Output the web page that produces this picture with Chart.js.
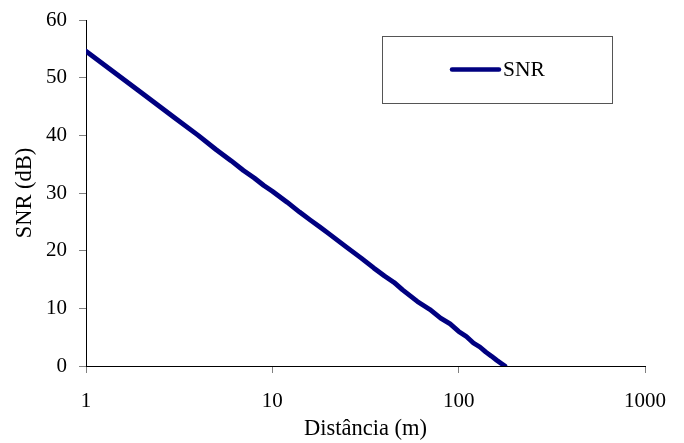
<!DOCTYPE html>
<html>
<head>
<meta charset="utf-8">
<script src="https://cdn.jsdelivr.net/npm/chart.js@4.4.1/dist/chart.umd.min.js"></script>
<style>
html,body{margin:0;padding:0;background:#fff;}
#wrap{width:684px;height:443px;position:relative;}
</style>
</head>
<body>
<div id="wrap"><canvas id="c" width="684" height="443"></canvas></div>
<script>
const distances = [1,2,3,4,5,6,7,8,9,10,12,14,16,18,20,25,30,35,40,45,50,60,70,80,90,100,110,120,130,140,150,160,170,177];
const snrValues = [54.6,47.3,43.0,40.0,37.5,35.6,33.9,32.6,31.3,30.3,28.4,26.7,25.3,24.1,23.0,20.6,18.7,17.0,15.6,14.5,13.2,11.2,9.8,8.3,7.3,6.0,5.1,4.0,3.3,2.4,1.7,1.0,0.4,0.0];
const xTickValues = [1,10,100,1000];
const seriesLabel = 'SNR';
const xTitle = 'Distância (m)';
const yTitle = 'SNR (dB)';

const FONT = '"Liberation Serif", "Times New Roman", serif';
const LINE = '#000080';

const legendBox = {
  id: 'legendBox',
  afterDraw(chart) {
    const ctx = chart.ctx;
    const a = chart.chartArea;
    const x0 = a.left + 296, y0 = a.top + 16, w = 230, h = 67;
    ctx.save();
    ctx.fillStyle = '#fff';
    ctx.fillRect(x0, y0, w, h);
    ctx.strokeStyle = '#555';
    ctx.lineWidth = 1;
    ctx.strokeRect(x0 + 0.5, y0 + 0.5, w, h);
    const cy = y0 + h / 2;
    ctx.strokeStyle = LINE;
    ctx.lineWidth = 4.5;
    ctx.lineCap = 'round';
    ctx.beginPath();
    ctx.moveTo(x0 + 70, cy);
    ctx.lineTo(x0 + 117, cy);
    ctx.stroke();
    ctx.fillStyle = '#000';
    ctx.font = '21.5px ' + FONT;
    ctx.textBaseline = 'middle';
    ctx.textAlign = 'left';
    ctx.fillText(chart.data.datasets[0].label, x0 + 121, cy + 1);
    ctx.restore();
  }
};

new Chart(document.getElementById('c'), {
  type: 'line',
  data: {
    datasets: [{
      label: seriesLabel,
      data: distances.map((d, i) => ({x: d, y: snrValues[i]})),
      borderColor: LINE,
      backgroundColor: LINE,
      borderWidth: 4.8,
      pointRadius: 0,
      tension: 0,
      borderCapStyle: 'round',
      borderJoinStyle: 'round'
    }]
  },
  options: {
    responsive: false,
    animation: false,
    devicePixelRatio: 1,
    layout: { padding: { top: 20, right: 39, left: 0, bottom: 0 } },
    plugins: { legend: { display: false }, tooltip: { enabled: false } },
    scales: {
      x: {
        type: 'logarithmic',
        min: 1, max: 1000,
        afterBuildTicks: s => { s.ticks = xTickValues.map(v => ({value: v})); },
        afterFit: s => { s.height = 77; s.paddingLeft = 0; s.paddingRight = 0; },
        ticks: {
          color: '#000',
          font: { family: FONT, size: 21 },
          padding: 16,
          maxRotation: 0,
          autoSkip: false,
          callback: v => String(v)
        },
        grid: { drawOnChartArea: false, drawTicks: true, tickLength: 7, color: '#808080' },
        border: { color: '#000', width: 1 },
        title: { display: true, text: xTitle, color: '#000', font: { family: FONT, size: 22.5 }, padding: { top: 0, bottom: 0 } }
      },
      y: {
        min: 0, max: 60,
        afterFit: s => { s.width = 86; s.paddingTop = 0; s.paddingBottom = 0; },
        ticks: {
          stepSize: 10,
          color: '#000',
          font: { family: FONT, size: 21 },
          padding: 12
        },
        grid: { drawOnChartArea: false, drawTicks: true, tickLength: 7, color: '#808080' },
        border: { color: '#000', width: 1 },
        title: { display: true, text: yTitle, color: '#000', font: { family: FONT, size: 22.5 }, padding: { top: 12, bottom: 0 } }
      }
    }
  },
  plugins: [legendBox]
});
</script>
</body>
</html>
